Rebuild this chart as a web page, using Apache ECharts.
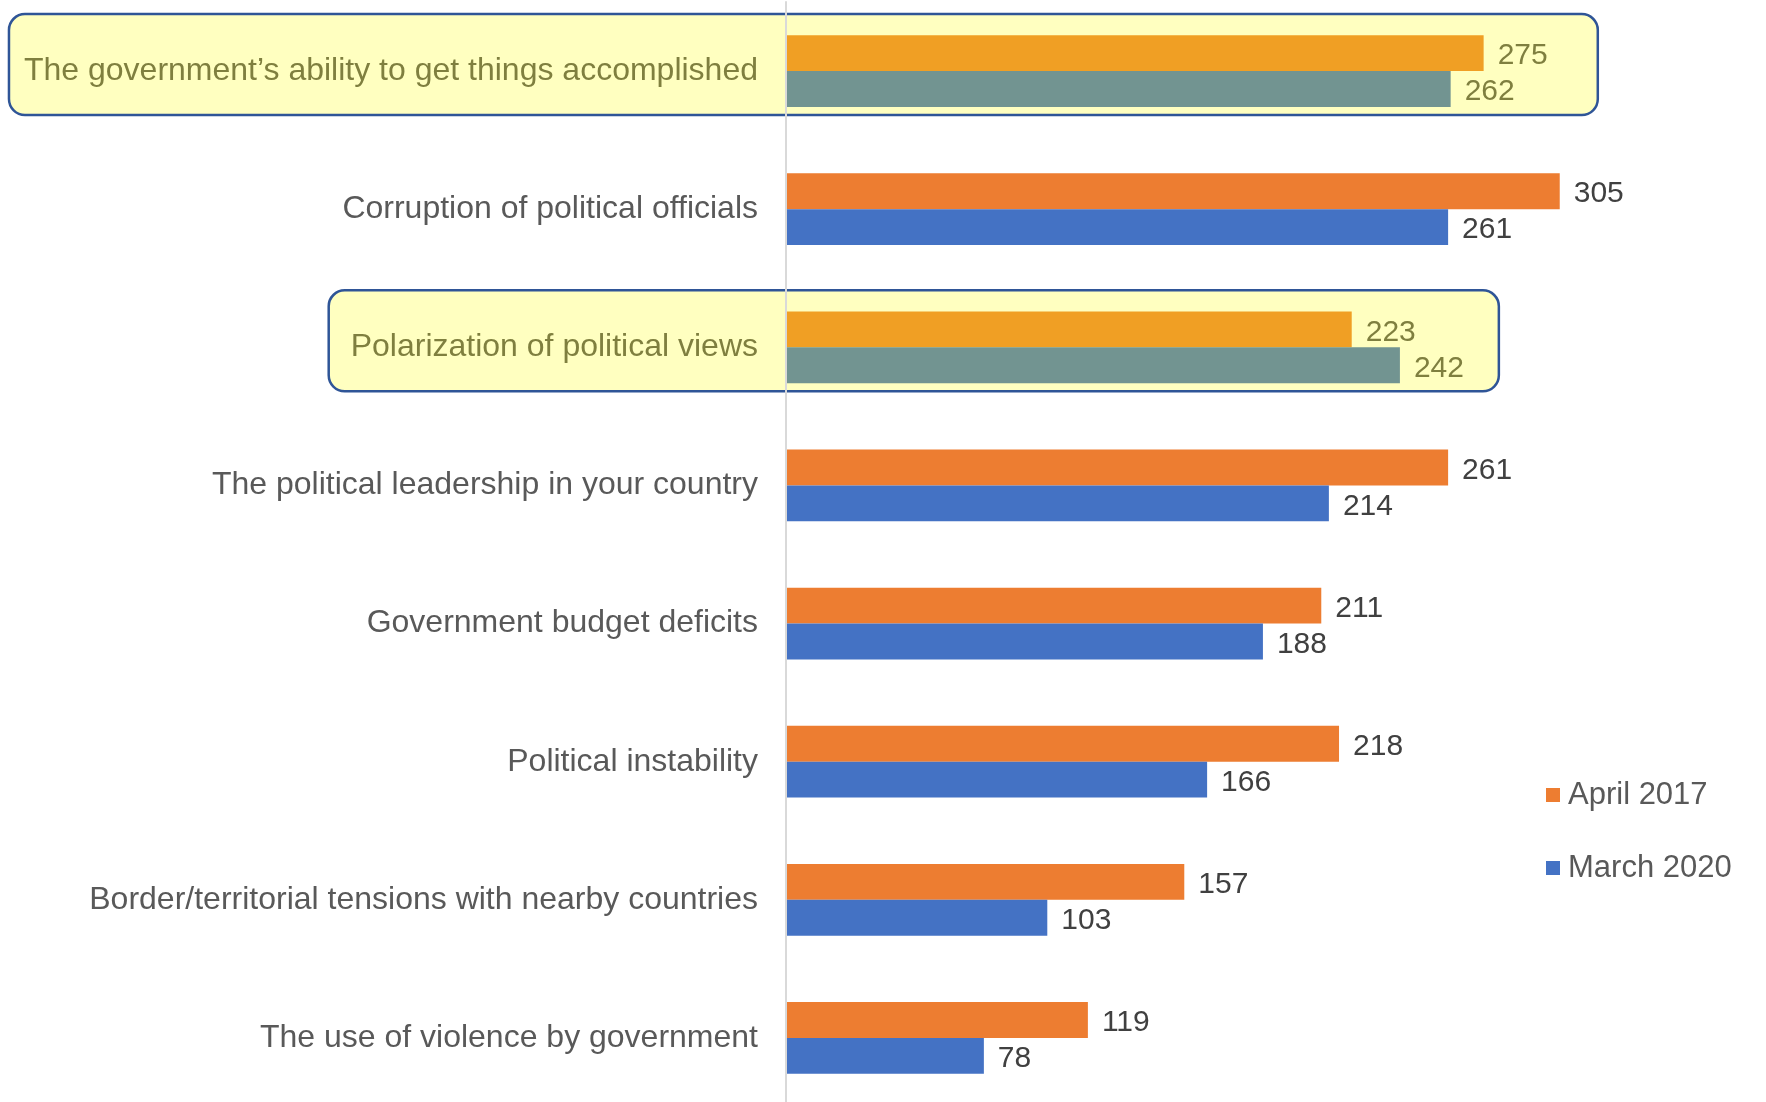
<!DOCTYPE html>
<html>
<head>
<meta charset="utf-8">
<title>Political risk concerns</title>
<script src="https://cdn.jsdelivr.net/npm/echarts@6/dist/echarts.min.js"></script>
<style>
  html, body { margin: 0; padding: 0; background: #ffffff; }
  #chart { width: 1766px; height: 1102px; }
</style>
</head>
<body>
<div id="chart"></div>
<script>
// Categories, top to bottom
const categories = [
  'The government\u2019s ability to get things accomplished',
  'Corruption of political officials',
  'Polarization of political views',
  'The political leadership in your country',
  'Government budget deficits',
  'Political instability',
  'Border/territorial tensions with nearby countries',
  'The use of violence by government'
];
const april2017 = [275, 305, 223, 261, 211, 218, 157, 119];
const march2020 = [262, 261, 242, 214, 188, 166, 103, 78];
const seriesNames = ['April 2017', 'March 2020'];

// Rows called out with a boxed background, and where each box ends on the value scale
const highlighted = [0, 2];
const boxEndValue = { 0: 320, 2: 281 };
const boxPad = { 0: 15, 2: 22 };

const FONT = '"Liberation Sans", Arial, Helvetica, sans-serif';
const COLORS = { april: '#ED7D31', march: '#4472C4', aprilHi: '#F09F24', marchHi: '#729491' };
const TEXT = '#595959', VALUE = '#404040', OLIVE = '#7F7F3F';

function buildData(values, normal, hi) {
  return values.map((v, i) => {
    const isHi = highlighted.includes(i);
    return {
      value: v,
      itemStyle: { color: isHi ? hi : normal },
      label: { color: isHi ? OLIVE : VALUE }
    };
  });
}

const chart = echarts.init(document.getElementById('chart'), null, { renderer: 'canvas' });

const labelStyle = {
  show: true, position: 'right', distance: 14, offset: [0, 3],
  fontFamily: FONT, fontSize: 30
};

chart.setOption({
  animation: false,
  backgroundColor: '#ffffff',
  grid: { left: 786, top: 2, width: 964, height: 1105, containLabel: false, outerBoundsMode: 'none' },
  xAxis: {
    type: 'value', min: 0, max: 380, show: false,
    splitLine: { show: false }
  },
  yAxis: {
    type: 'category', data: categories, inverse: true, z: 3,
    axisLine: { show: true, lineStyle: { color: '#D9D9D9', width: 2 } },
    axisTick: { show: false },
    axisLabel: {
      margin: 28, fontFamily: FONT, fontSize: 32, padding: [5, 0, 0, 0],
      color: (val, idx) => highlighted.includes(idx) ? OLIVE : TEXT
    }
  },
  legend: {
    orient: 'vertical', left: 1541, top: 774, itemGap: 41,
    icon: 'rect', itemWidth: 14, itemHeight: 14,
    textStyle: { fontFamily: FONT, fontSize: 31, color: TEXT, lineHeight: 32, padding: [0, 0, 0, 3] },
    data: seriesNames
  },
  series: [
    {
      name: seriesNames[0], type: 'bar', barGap: '0%', barCategoryGap: '48%',
      itemStyle: { color: COLORS.april },
      label: labelStyle,
      data: buildData(april2017, COLORS.april, COLORS.aprilHi)
    },
    {
      name: seriesNames[1], type: 'bar', barGap: '0%', barCategoryGap: '48%',
      itemStyle: { color: COLORS.march },
      label: labelStyle,
      data: buildData(march2020, COLORS.march, COLORS.marchHi)
    }
  ]
});

// Rounded boxes behind the highlighted rows, placed from the axes' own scales
function measure(text, size) {
  const ctx = document.createElement('canvas').getContext('2d');
  ctx.font = size + 'px ' + FONT;
  return ctx.measureText(text).width;
}

function drawBoxes() {
  const axisX = chart.convertToPixel({ xAxisIndex: 0 }, 0);
  const elements = highlighted.map(i => {
    const cy = chart.convertToPixel({ yAxisIndex: 0 }, categories[i]);
    const right = chart.convertToPixel({ xAxisIndex: 0 }, boxEndValue[i]);
    const left = axisX - 28 - measure(categories[i], 32) - boxPad[i];
    return {
      type: 'rect', z: -10, silent: true,
      shape: { x: left, y: cy - 57, width: right - left, height: 101, r: 16 },
      style: { fill: '#FFFFC0', stroke: '#2F5597', lineWidth: 2.5 }
    };
  });
  chart.setOption({ graphic: { elements } });
}
drawBoxes();
</script>
</body>
</html>
